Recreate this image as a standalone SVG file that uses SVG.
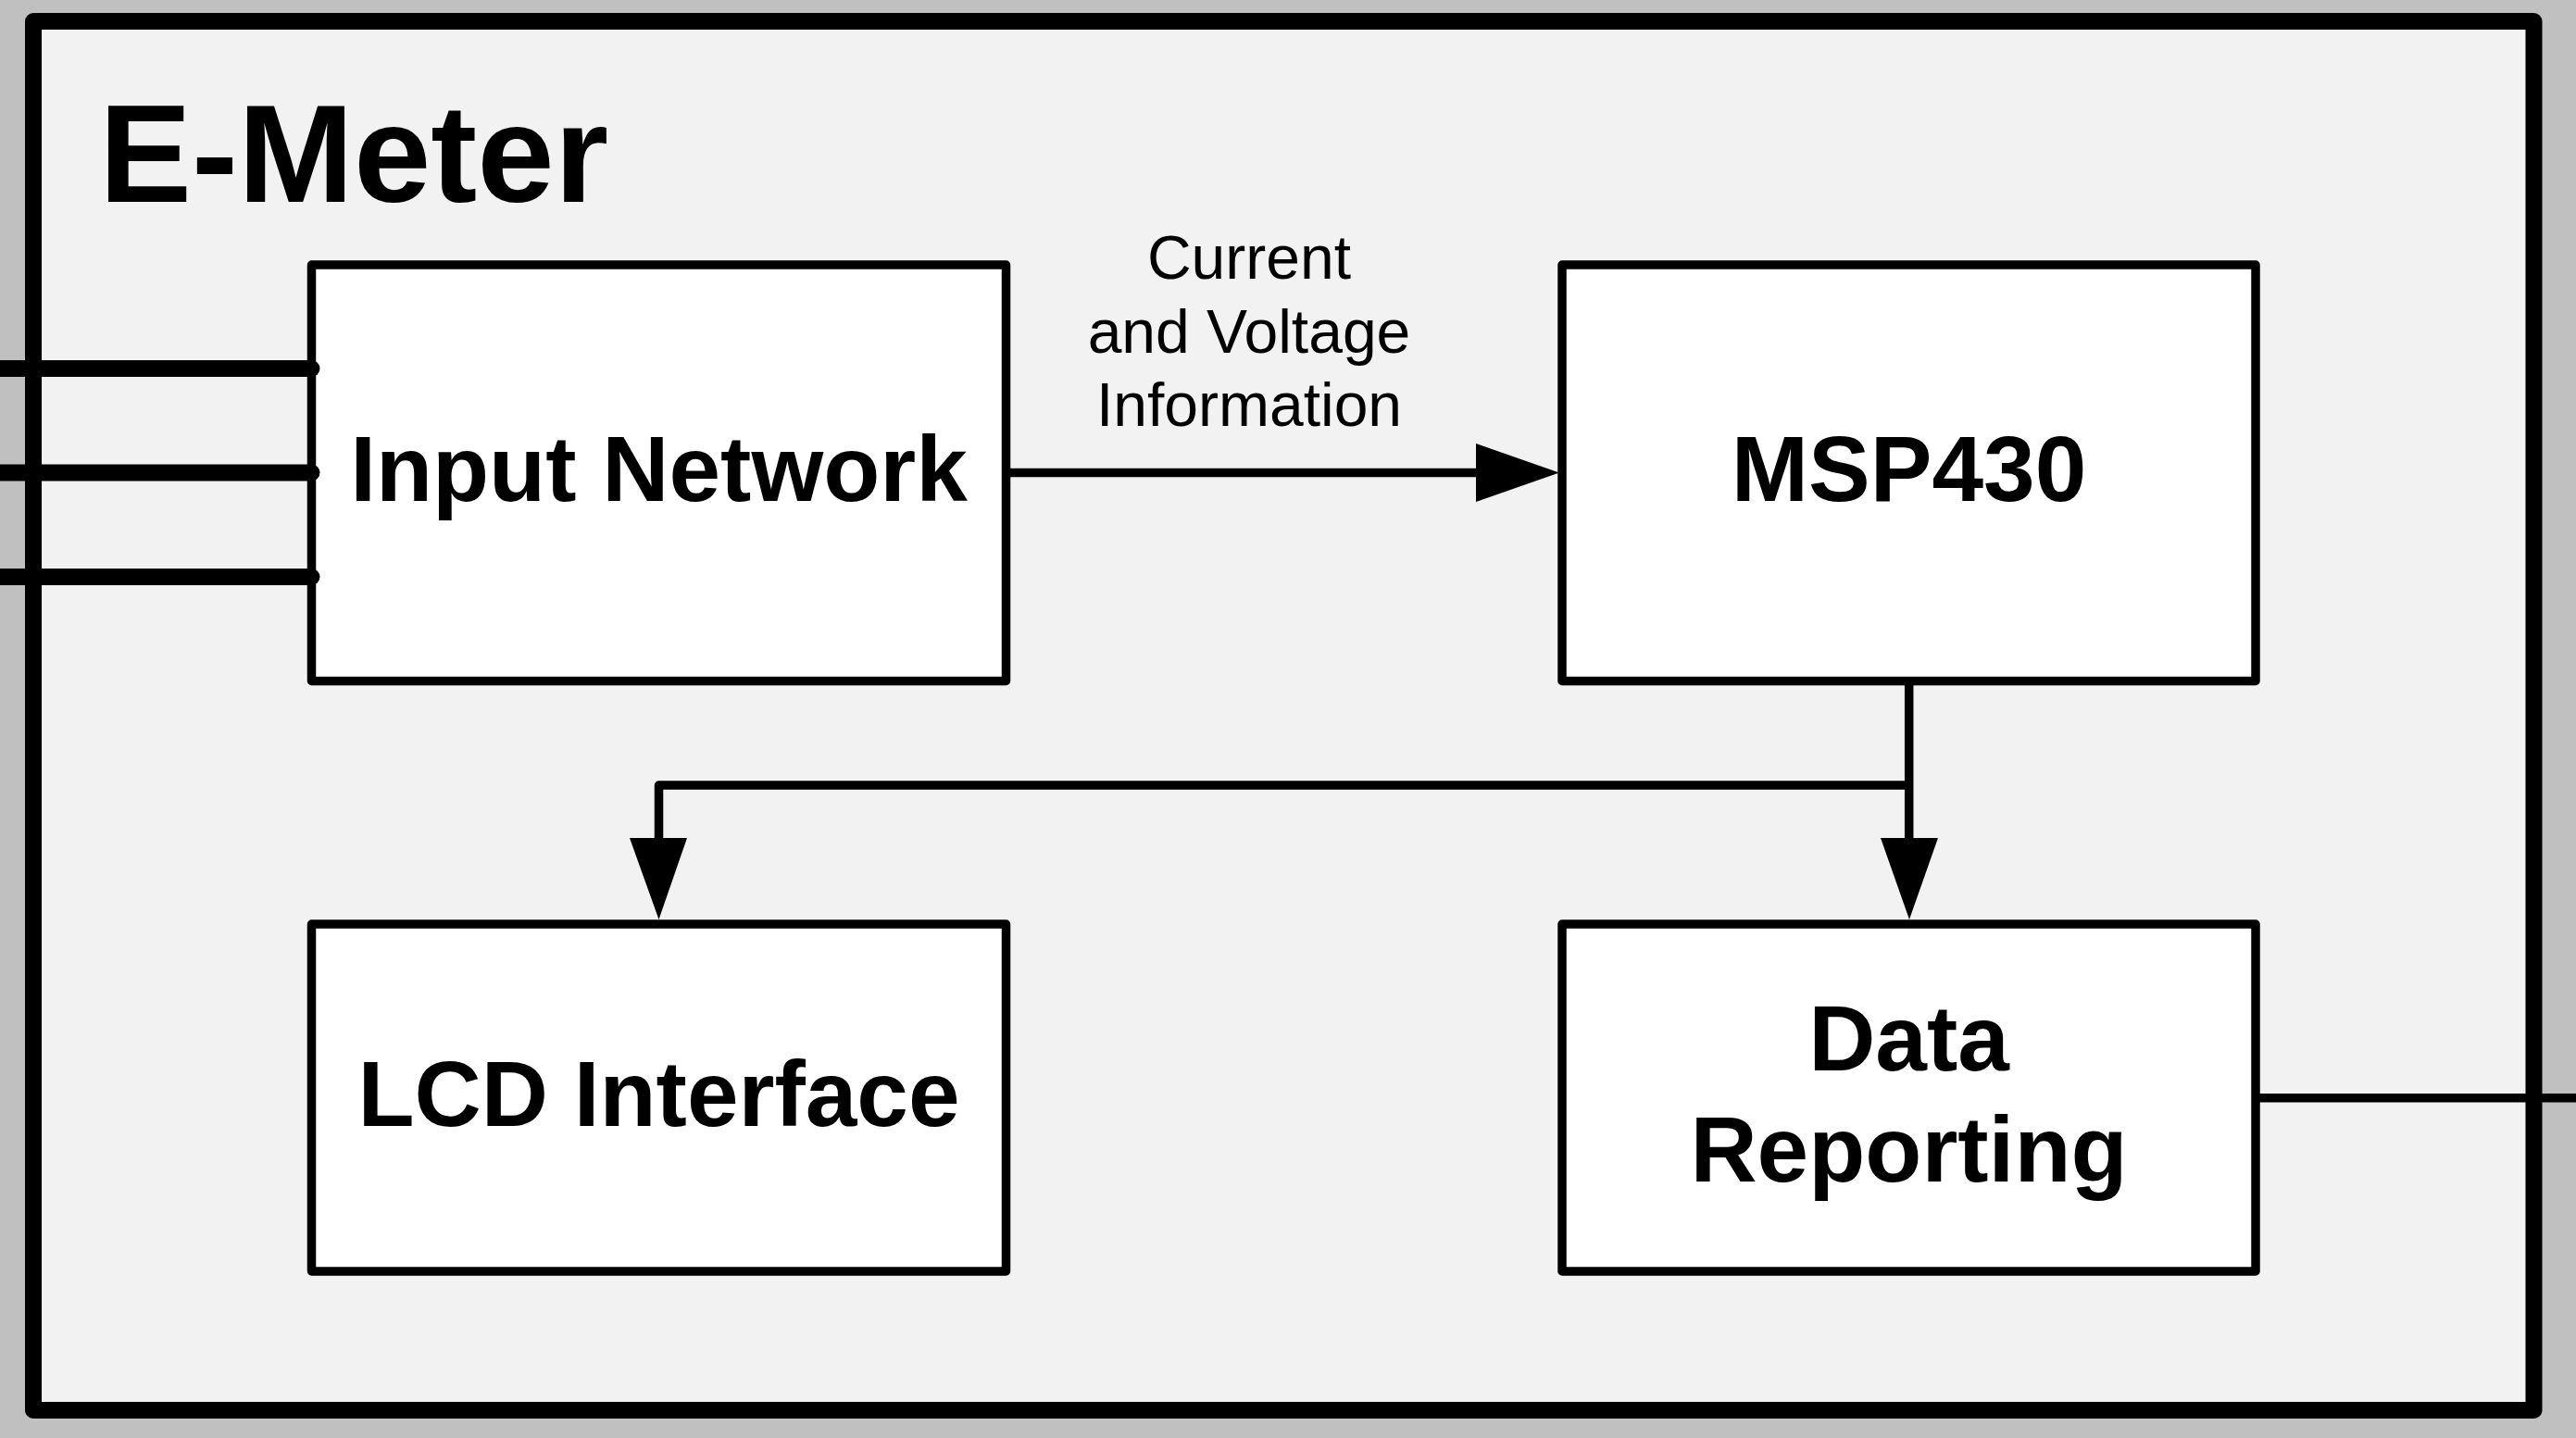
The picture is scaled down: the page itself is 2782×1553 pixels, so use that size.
<svg xmlns="http://www.w3.org/2000/svg" width="2782" height="1553" viewBox="0 0 2782 1553">
<style>
.box{fill:#ffffff;stroke:#000;stroke-width:9.5;stroke-linejoin:round}
.lbl{font-family:"Liberation Sans",Arial,sans-serif;font-weight:bold;font-size:100px;fill:#000;text-anchor:middle}
.small{font-family:"Liberation Sans",Arial,sans-serif;font-size:66px;fill:#000;text-anchor:middle}
.wire{fill:none;stroke:#000;stroke-width:9.5;stroke-linejoin:round}
.thick{fill:none;stroke:#000;stroke-width:18;stroke-linecap:round}
.head{fill:#000;stroke:none}
</style>
<rect x="0" y="0" width="2782" height="1553" fill="#c0c0c0"/>
<g id="emeter">
<rect x="36" y="23" width="2700.5" height="1500" fill="#f2f2f2" stroke="#000" stroke-width="18" stroke-linejoin="round"/>
<text x="107" y="218" font-family="'Liberation Sans',Arial,sans-serif" font-weight="bold" font-size="150" fill="#000">E-Meter</text>
</g>
<g id="input-network">
<rect class="box" x="336.5" y="286" width="750" height="449.5"/>
<text class="lbl" x="711.5" y="541">Input Network</text>
</g>
<g id="msp430">
<rect class="box" x="1687" y="286" width="749" height="449.5"/>
<text class="lbl" x="2061.5" y="541">MSP430</text>
</g>
<g id="lcd-interface">
<rect class="box" x="336.5" y="998" width="750" height="375"/>
<text class="lbl" x="711.5" y="1216">LCD Interface</text>
</g>
<g id="data-reporting">
<rect class="box" x="1687" y="998" width="749" height="375"/>
<text class="lbl" x="2061.5" y="1156">Data</text>
<text class="lbl" x="2061.5" y="1276">Reporting</text>
</g>
<g id="connectors">
<line class="thick" x1="-20" y1="398" x2="336.5" y2="398"/>
<line class="thick" x1="-20" y1="510.5" x2="336.5" y2="510.5"/>
<line class="thick" x1="-20" y1="623" x2="336.5" y2="623"/>
<line class="wire" x1="1086.5" y1="510.5" x2="1600" y2="510.5"/>
<polygon class="head" points="1594,479 1684,510.5 1594,542"/>
<line class="wire" x1="2061.7" y1="735.5" x2="2061.7" y2="910"/>
<polygon class="head" points="2031,905 2093,905 2062,993"/>
<polyline class="wire" points="2061.7,848 711.5,848 711.5,910"/>
<polygon class="head" points="680,905 742,905 711.5,993"/>
<line class="wire" x1="2436" y1="1185.7" x2="2790" y2="1185.7"/>
<text class="small" x="1349" y="301">Current</text>
<text class="small" x="1349" y="381">and Voltage</text>
<text class="small" x="1349" y="460">Information</text>
</g>
</svg>
